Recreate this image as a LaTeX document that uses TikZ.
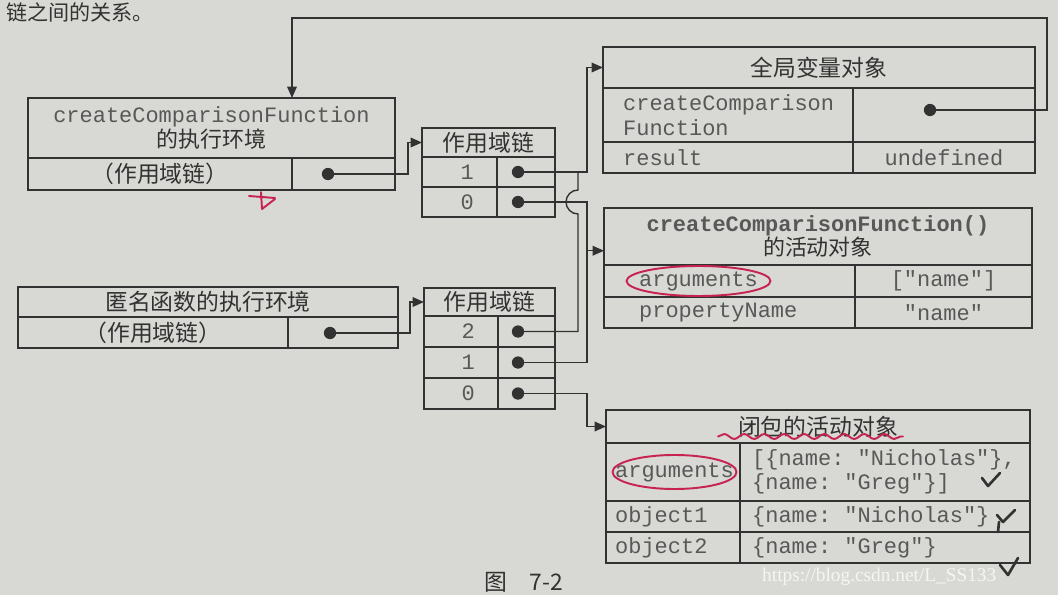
\documentclass[tikz,border=0pt]{standalone}
\usepackage{fontspec}
\usepackage{tikz}
\usetikzlibrary{arrows.meta, positioning, calc, decorations.pathmorphing}
\setmonofont{Liberation Mono}
\newfontfamily\cjk{Noto Sans CJK SC}
\newfontfamily\wmfont{Liberation Serif}
\definecolor{paper}{RGB}{216,216,212}
\definecolor{ink}{RGB}{50,50,50}
\definecolor{inklight}{RGB}{88,88,88}
\definecolor{redpen}{RGB}{200,35,80}
\tikzset{
  cell/.style={draw=ink,line width=0.9pt,anchor=north west,inner sep=0pt,outer sep=0pt},
  cjktxt/.style={font=\cjk\fontsize{13}{15}\selectfont,text=ink},
  codetxt/.style={font=\ttfamily\fontsize{12.5}{14}\selectfont,text=inklight},
  ptr/.style={circle,fill=ink,minimum size=7pt,inner sep=0pt},
  wire/.style={draw=ink,line width=0.8pt},
  link/.style={wire,-{Triangle[length=6.5pt,width=5.5pt]}},
  handmark/.style={line width=1.1pt,line cap=round,line join=round},
}

\begin{document}
\begin{tikzpicture}[x=0.02cm,y=-0.02cm]
  \fill[paper] (0,0) rectangle (1058,595);
  \useasboundingbox (0,0) rectangle (1058,595);
  \node[cjktxt,anchor=west,font=\cjk\fontsize{12}{14}\selectfont] (toptxt) at (0,12) {链之间的关系。};
  % createComparisonFunction execution context
  \node[cell,minimum width=7.34cm,minimum height=1.2cm,codetxt,align=center] (ctxAt) at (28,98)
    {createComparisonFunction\\{\cjk\color{ink}的执行环境}};
  \node[cell,minimum width=5.28cm,minimum height=0.64cm,cjktxt] (ctxAl) at (28,158) {（作用域链）};
  \node[cell,minimum width=2.06cm,minimum height=0.64cm] (ctxAr) at (292,158) {};
  \node[ptr] (dA) at (328,174) {};
  % scope chain of createComparisonFunction
  \node[cell,minimum width=2.66cm,minimum height=0.58cm,cjktxt] (sc1h) at (422,128) {作用域链};
  \node[cell,minimum width=1.5cm,minimum height=0.6cm] (sc1k1) at (422,157) {};
  \node[cell,minimum width=1.16cm,minimum height=0.6cm] (sc1v1) at (497,157) {};
  \node[cell,minimum width=1.5cm,minimum height=0.6cm] (sc1k0) at (422,187) {};
  \node[cell,minimum width=1.16cm,minimum height=0.6cm] (sc1v0) at (497,187) {};
  \node[codetxt,anchor=east] (sc1n1) at ([xshift=-0.34cm]sc1k1.east) {1};
  \node[codetxt,anchor=east] (sc1n0) at ([xshift=-0.34cm]sc1k0.east) {0};
  \node[ptr] (d11) at (518,172) {};
  \node[ptr] (d10) at (518,202) {};
  % anonymous function execution context
  \node[cell,minimum width=7.6cm,minimum height=0.6cm,cjktxt] (ctxBt) at (18,287) {匿名函数的执行环境};
  \node[cell,minimum width=5.4cm,minimum height=0.62cm,cjktxt] (ctxBl) at (18,317) {（作用域链）};
  \node[cell,minimum width=2.2cm,minimum height=0.62cm] (ctxBr) at (288,317) {};
  \node[ptr] (dB) at (330,333) {};
  % scope chain of the closure
  \node[cell,minimum width=2.62cm,minimum height=0.56cm,cjktxt] (sc2h) at (424,288) {作用域链};
  \foreach \r/\y in {2/316,1/347,0/378} {
    \node[cell,minimum width=1.48cm,minimum height=0.62cm] (sc2k\r) at (424,\y) {};
    \node[cell,minimum width=1.14cm,minimum height=0.62cm] (sc2v\r) at (498,\y) {};
    \node[codetxt,anchor=east] (sc2n\r) at ([xshift=-0.34cm]sc2k\r.east) {\r};
    \node[ptr] (d2\r) at (518,\y+15.5) {};
  }
  % global variable object
  \node[cell,minimum width=8.64cm,minimum height=0.82cm,cjktxt] (gvoh) at (603,47) {全局变量对象};
  \node[cell,minimum width=5.0cm,minimum height=1.08cm] (gvok1) at (603,88) {};
  \node[cell,minimum width=3.64cm,minimum height=1.08cm] (gvov1) at (853,88) {};
  \node[cell,minimum width=5.0cm,minimum height=0.62cm] (gvok2) at (603,142) {};
  \node[cell,minimum width=3.64cm,minimum height=0.62cm,codetxt] (gvov2) at (853,142) {undefined};
  \node[codetxt,anchor=west,align=left] (gvon1) at ([xshift=0.28cm]gvok1.west) {createComparison\\Function};
  \node[codetxt,anchor=west] (gvon2) at ([xshift=0.28cm]gvok2.west) {result};
  \node[ptr] (gd) at (930,110) {};
  % activation object of createComparisonFunction()
  \node[cell,minimum width=8.56cm,minimum height=1.14cm,codetxt,align=center] (cfoh) at (604,208)
    {\textbf{createComparisonFunction()}\\{\cjk\color{ink}的活动对象}};
  \node[cell,minimum width=5.02cm,minimum height=0.64cm] (cfok1) at (604,265) {};
  \node[cell,minimum width=3.54cm,minimum height=0.64cm,codetxt] (cfov1) at (855,265) {["name"]};
  \node[cell,minimum width=5.02cm,minimum height=0.62cm] (cfok2) at (604,297) {};
  \node[cell,minimum width=3.54cm,minimum height=0.62cm,codetxt] (cfov2) at (855,297) {"name"};
  \node[codetxt,anchor=west] (cfon1) at ([xshift=0.58cm]cfok1.west) {arguments};
  \node[codetxt,anchor=west] (cfon2) at ([xshift=0.58cm]cfok2.west) {propertyName};
  % activation object of the closure
  \node[cell,minimum width=8.48cm,minimum height=0.66cm,cjktxt] (cloh) at (606,410) {闭包的活动对象};
  \node[cell,minimum width=2.68cm,minimum height=1.16cm] (clok1) at (606,443) {};
  \node[cell,minimum width=5.8cm,minimum height=1.16cm] (clov1) at (740,443) {};
  \node[cell,minimum width=2.68cm,minimum height=0.62cm] (clok2) at (606,501) {};
  \node[cell,minimum width=5.8cm,minimum height=0.62cm] (clov2) at (740,501) {};
  \node[cell,minimum width=2.68cm,minimum height=0.62cm] (clok3) at (606,532) {};
  \node[cell,minimum width=5.8cm,minimum height=0.62cm] (clov3) at (740,532) {};
  \node[codetxt,anchor=west] (clon1) at ([xshift=0.06cm]clok1.west) {arguments};
  \node[codetxt,anchor=west] (clon2) at ([xshift=0.06cm]clok2.west) {object1};
  \node[codetxt,anchor=west] (clon3) at ([xshift=0.06cm]clok3.west) {object2};
  \node[codetxt,anchor=west,align=left] (clot1) at ([xshift=0.12cm]clov1.west)
    {[\{name: "Nicholas"\},\\\{name: "Greg"\}]};
  \node[codetxt,anchor=west] (clot2) at ([xshift=0.12cm]clov2.west) {\{name: "Nicholas"\}};
  \node[codetxt,anchor=west] (clot3) at ([xshift=0.12cm]clov3.west) {\{name: "Greg"\}};
  % connectors
  \coordinate (busIn) at (578,0);
  \coordinate (busOut) at (587,0);
  \coordinate (loopTR) at (1047,18);
  \draw[link] (dA.center) -- ([xshift=-0.28cm]dA.center -| sc1h.west) |- (sc1h.west);
  \draw[link] (dB.center) -- ([xshift=-0.28cm]dB.center -| sc2h.west) |- (sc2h.west);
  \draw[link] (d11.center) -- (d11.center -| busOut) |- (gvoh.west);
  \draw[link] (d10.center) -- (d10.center -| busOut) |- ($(cfoh.south west)!0.25!(cfoh.north west)$);
  \draw[wire] (d22.center) -- (d22.center -| busIn) -- ([yshift=-0.24cm]d10.center -| busIn)
    arc[start angle=-90,end angle=-270,radius=0.24cm] -- (d11.center -| busIn);
  \draw[wire] (d21.center) -- (d21.center -| busOut) -- (d10.center -| busOut);
  \draw[link] (d20.center) -- (d20.center -| busOut) |- (cloh.west);
  \draw[link] (gd.center) -| (loopTR) -| (ctxAt.north -| ctxAr.west);
  % handwritten marks
  \draw[redpen,handmark] (cfon1.center) ellipse[x radius=1.44cm,y radius=0.3cm];
  \draw[redpen,handmark] (clon1.center) ellipse[x radius=1.24cm,y radius=0.34cm];
  \draw[redpen,handmark,decorate,decoration={snake,amplitude=0.05cm,segment length=0.4cm}]
    ([xshift=-2.0cm,yshift=-0.2cm]cloh.center) -- ([xshift=1.7cm,yshift=-0.2cm]cloh.center);
  \draw[redpen,handmark] (249,196) -- (275,198) (261,192) -- (262,209) -- (275,199);
  \draw[ink,handmark,line width=1.5pt] (982,478) -- (988,486) -- (1000,473);
  \draw[ink,handmark,line width=1.5pt] (997,515) -- (1003,522) -- (1015,510) (999,522) -- (998,532);
  \draw[ink,handmark,line width=1.5pt] (1000,565) -- (1008,575) -- (1018,558);
  \node[font=\wmfont\fontsize{11}{13}\selectfont,text=white,opacity=0.75,anchor=west] (wmark) at (756,577)
    {https://blog.csdn.net/L\_SS133};
  \node[cjktxt,anchor=west] (figcap) at (478,582) {图\quad 7-2};
\end{tikzpicture}
\end{document}
